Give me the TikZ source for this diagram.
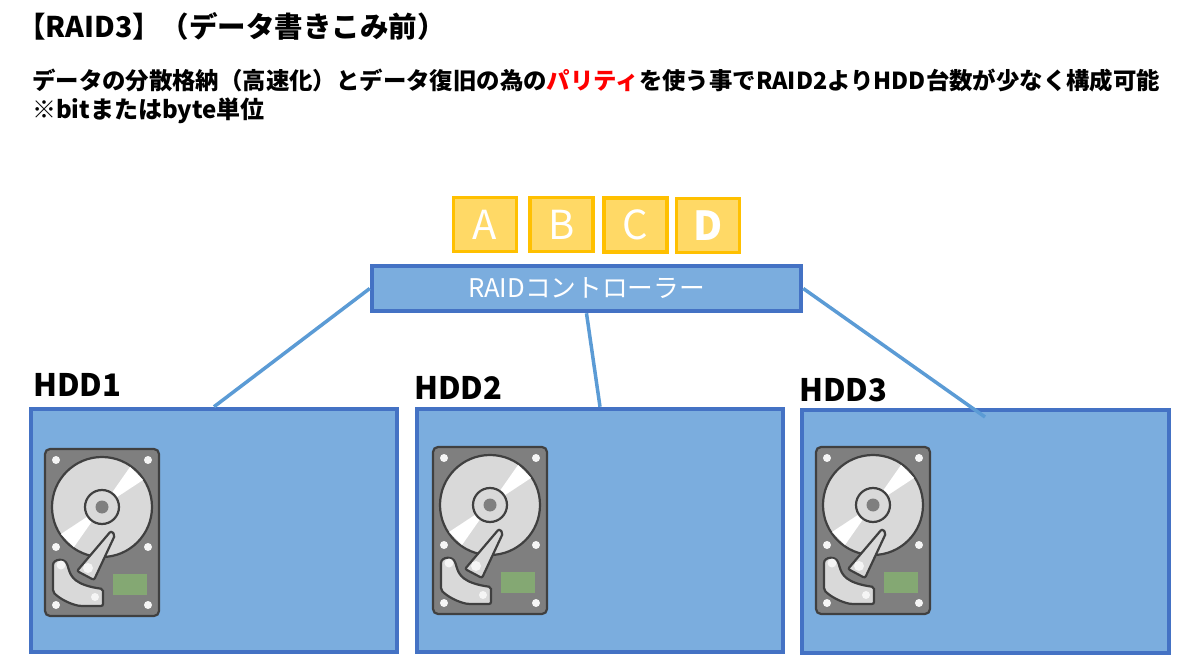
\documentclass[tikz,border=0pt]{standalone}
\usepackage{fontspec}
\setmainfont{Noto Sans CJK JP}
\usetikzlibrary{positioning}
\definecolor{boxblue}{HTML}{7BADDE}
\definecolor{edgeblue}{HTML}{4472C4}
\definecolor{linkblue}{HTML}{5B9BD5}
\definecolor{datafill}{HTML}{FFD966}
\definecolor{dataedge}{HTML}{FFC000}
\definecolor{caseGray}{HTML}{7F7F7F}
\definecolor{darkGray}{HTML}{404040}
\definecolor{discGray}{HTML}{D9D9D9}
\definecolor{pcbGreen}{HTML}{84A873}
\tikzset{
  hddbox/.style={draw=edgeblue, line width=4.5pt, fill=boxblue, minimum width=366pt, minimum height=243pt, inner sep=0pt},
  ctrlbox/.style={draw=edgeblue, line width=4.5pt, fill=boxblue, minimum width=429pt, minimum height=45pt, text=white, font=\fontsize{25.7}{26}\selectfont, inner sep=0pt},
  databox/.style={draw=dataedge, line width=3.5pt, fill=datafill, minimum width=63pt, minimum height=54pt, text=white, font=\fontsize{40}{40}\selectfont, inner sep=0pt},
  hddlabel/.style={anchor=west, font=\fontsize{31}{31}\selectfont\bfseries, inner sep=0pt},
  headline/.style={anchor=west, inner sep=0pt},
  link/.style={draw=linkblue, line width=3.5pt},
  screw/.style={fill=white!92!gray},
  pics/hdd/.style={code={
    \draw[darkGray, line width=2.2pt, fill=caseGray, rounded corners=5pt] (0,0) rectangle (114,167);
    \draw[darkGray, line width=2.2pt, fill=discGray] (57,58) circle (50pt);
    \fill[white] (57,58) -- (85,18) -- (98,31) -- cycle;
    \fill[white] (57,58) -- (29,98) -- (16,85) -- cycle;
    \draw[darkGray, line width=2.2pt, fill=discGray] (57,58) circle (17pt);
    \fill[caseGray] (57,58) circle (6.5pt);
    \foreach \sx/\sy in {11/11, 103/11, 11/98, 103/98, 11/156, 103/156}
      \fill[screw] (\sx,\sy) circle (4pt);
    \fill[pcbGreen] (68,125) rectangle (102,146);
    \draw[darkGray, line width=2.2pt, fill=discGray, rounded corners=2pt] (8,118) .. controls (8,110) and (20,108) .. (23,118) .. controls (26,128) and (30,136) .. (58,140) -- (58,157) -- (35,157) .. controls (25,155) and (15,150) .. (8,143) -- cycle;
    \draw[darkGray, line width=2.2pt, fill=discGray, rounded corners=2pt] (66,82) -- (70,86) -- (49,131) -- (32,122) -- cycle;
    \fill[screw] (43,119) circle (5pt);
    \fill[screw] (16,116) circle (4.5pt);
    \fill[screw] (50,148) circle (4pt);
  }}
}
\begin{document}
\begin{tikzpicture}[x=1pt, y=-1pt]
\useasboundingbox (0,0) rectangle (1200,668);

\node[headline, font=\fontsize{28.5}{28}\selectfont\bfseries] (title) at (17,26) {【RAID3】（データ書きこみ前）};
\node[headline, font=\fontsize{23.4}{24}\selectfont\bfseries] (desc1) at (32,81) {データの分散格納（高速化）とデータ復旧の為の\textcolor{red}{パリティ}を使う事でRAID2よりHDD台数が少なく構成可能};
\node[headline, font=\fontsize{24}{24}\selectfont\bfseries] (desc2) at (32,111) {※bitまたはbyte単位};

\node[hddbox] (hdd1) at (214,530.5) {};
\node[hddbox] (hdd2) at (600,530.5) {};
\node[hddbox, minimum width=367pt] (hdd3) at (985.5,531.5) {};
\node[hddlabel] (lab1) at (33,385) {HDD1};
\node[hddlabel] (lab2) at (414,388) {HDD2};
\node[hddlabel] (lab3) at (799,390) {HDD3};

\pic at (45,449) {hdd};
\pic at (433,447) {hdd};
\pic at (816,447) {hdd};

\node[ctrlbox] (ctrl) at (586.5,288.5) {RAIDコントローラー};
\node[databox] (dataA) at (485,224.5) {A};
\node[databox] (dataB) at (561.5,224.5) {B};
\node[databox] (dataC) at (635.5,225) {C};
\node[databox, font=\fontsize{40}{40}\selectfont\bfseries] (dataD) at (708,225.5) {D};

\coordinate (end3) at (985,417);
\draw[link] (ctrl.west) -- (hdd1.north);
\draw[link] (ctrl.south) -- (hdd2.north);
\draw[link] (ctrl.east) -- (end3);
\end{tikzpicture}
\end{document}
